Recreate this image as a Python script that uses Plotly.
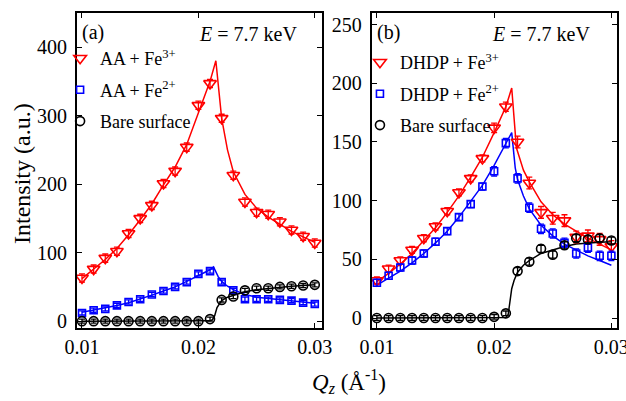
import plotly.graph_objects as go

# ---------------- data ----------------
q_pts = [0.010, 0.011, 0.012, 0.013, 0.014, 0.015, 0.016, 0.017, 0.018, 0.019, 0.020,
         0.021, 0.022, 0.023, 0.024, 0.025, 0.026, 0.027, 0.028, 0.029, 0.030]

# panel (a) : AA
a_fe3 = [63, 76, 92, 102, 128, 150, 169, 201, 219, 254, 315, 347, 296, 213, 174, 159, 156, 145, 133, 124, 114]
a_fe2 = [12, 16, 18, 23, 28, 32, 39, 44, 50, 57, 69, 73, 57, 45, 32, 32, 32, 31, 30, 27, 25]
a_bare = [0, 0, 0, 0, 0, 0, 0, 0, 0, 0, 0, 3, 31, 36, 45, 48, 48, 50, 51, 52, 53]
a_fe3_err = [6, 6, 6, 6, 6, 6, 6, 6, 6, 6, 6, 6, 6, 6, 6, 6, 6, 6, 6, 6, 6]
a_fe2_err = [3, 3, 3, 3, 3, 3, 3, 3, 3, 3, 3, 3, 3, 3, 3, 3, 3, 3, 3, 3, 3]
a_bare_err = [3, 3, 3, 3, 3, 3, 3, 3, 3, 3, 3, 3, 3, 3, 3, 3, 3, 3, 3, 3, 3]

# panel (b) : DHDP
b_fe3 = [32, 42, 49, 58, 68, 78, 91, 107, 119, 136, 162, 180, 150, 115, 90, 85, 83, 69, 70, 67, 61]
b_fe2 = [30, 36, 43, 49, 55, 65, 74, 86, 97, 112, 125, 149, 119, 94, 76, 72, 64, 55, 60, 53, 53]
b_bare = [0, 0, 0, 0, 0, 0, 0, 0, 0, 0, 1, 4, 40, 48, 59, 54, 62, 68, 67, 68, 66]
b_fe3_err = [3, 3, 3, 3, 3, 3, 3, 3, 3, 3, 4, 4, 5, 5, 5, 5, 5, 5, 5, 5, 5]
b_fe2_err = [3, 3, 3, 3, 3, 3, 3, 3, 3, 3, 4, 4, 4, 4, 4, 4, 4, 4, 4, 4, 4]
b_bare_err = [2, 2, 2, 2, 2, 2, 2, 2, 2, 2, 2, 2, 3, 3, 3, 3, 3, 3, 3, 3, 3]

# fit curves
a_fe3_fit_q = [0.010, 0.011, 0.012, 0.013, 0.014, 0.015, 0.016, 0.017, 0.018, 0.019, 0.020, 0.021,
               0.0215, 0.0218, 0.022, 0.0225, 0.023, 0.024, 0.025, 0.026, 0.027, 0.028, 0.029, 0.030]
a_fe3_fit = [62, 76, 90, 106, 126, 148, 171, 199, 225, 258, 305, 350,
             380, 330, 296, 250, 218, 185, 165, 152, 141, 131, 123, 115]

a_fe2_fit_q = [0.010, 0.011, 0.012, 0.013, 0.014, 0.015, 0.016, 0.017, 0.018, 0.019, 0.020, 0.021,
               0.0213, 0.0217, 0.022, 0.0225, 0.023, 0.024, 0.025, 0.026, 0.027, 0.028, 0.029, 0.030]
a_fe2_fit = [13, 16, 19, 23, 27, 32, 38, 44, 50, 58, 67, 75,
             79, 65, 58, 51, 46, 39, 35, 33, 31, 29, 27, 26]

a_bare_fit_q = [0.010, 0.015, 0.020, 0.0210, 0.0212, 0.0214, 0.0216, 0.0218, 0.022, 0.0225,
                0.023, 0.024, 0.025, 0.026, 0.027, 0.028, 0.029, 0.030]
a_bare_fit = [0, 0, 0, 0.5, 2, 8, 20, 26, 30, 35, 38, 43, 46, 48, 50, 51, 52, 53]

b_fe3_fit_q = [0.010, 0.011, 0.012, 0.013, 0.014, 0.015, 0.016, 0.017, 0.018, 0.019, 0.020, 0.021,
               0.0215, 0.0219, 0.0225, 0.023, 0.024, 0.025, 0.026, 0.027, 0.028, 0.029, 0.030]
b_fe3_fit = [31, 38, 46, 55, 66, 77, 90, 104, 120, 137, 158, 180,
             196, 145, 126, 116, 99, 88, 80, 74, 68, 63, 58]

b_fe2_fit_q = [0.010, 0.011, 0.012, 0.013, 0.014, 0.015, 0.016, 0.017, 0.018, 0.019, 0.020, 0.021,
               0.0215, 0.0218, 0.022, 0.0225, 0.023, 0.024, 0.025, 0.026, 0.027, 0.028, 0.029, 0.030]
b_fe2_fit = [28, 34, 40, 47, 55, 64, 74, 86, 99, 113, 130, 148,
             158, 128, 118, 104, 93, 79, 70, 63, 58, 53, 49, 45]

b_bare_fit_q = [0.010, 0.015, 0.020, 0.0210, 0.0212, 0.0213, 0.0214, 0.0215, 0.0217, 0.022, 0.0225,
                0.023, 0.024, 0.025, 0.026, 0.027, 0.028, 0.029, 0.030]
b_bare_fit = [0, 0, 0, 0.5, 3, 10, 18, 25, 32, 39, 45, 49, 55, 58, 61, 63, 64, 64.5, 65]

y_ticks_a = [0, 100, 200, 300, 400]
y_ticks_b = [0, 50, 100, 150, 200, 250]
x_ticks = [0.01, 0.02, 0.03]

RED = "#ff0000"
BLUE = "#0000ff"
BLACK = "#000000"
FONT = "Times New Roman, Liberation Serif, DejaVu Serif, serif"

fig = go.Figure()


def add_series(q, vals, err, color, symbol, size, name, xa, ya, legend):
    fig.add_trace(go.Scatter(
        x=q, y=vals, mode="markers", name=name, xaxis=xa, yaxis=ya,
        legend=legend, legendgroup=name + legend,
        marker=dict(symbol=symbol, size=size, color=color,
                    line=dict(color=color, width=1.6)),
        error_y=dict(type="data", array=err, visible=True, color=color,
                     thickness=1.3, width=3),
    ))


def add_fit(q, vals, color, xa, ya):
    fig.add_trace(go.Scatter(
        x=q, y=vals, mode="lines", xaxis=xa, yaxis=ya, showlegend=False,
        line=dict(color=color, width=1.5), hoverinfo="skip",
    ))


# panel (a)
add_fit(a_fe3_fit_q, a_fe3_fit, RED, "x", "y")
add_fit(a_fe2_fit_q, a_fe2_fit, BLUE, "x", "y")
add_fit(a_bare_fit_q, a_bare_fit, BLACK, "x", "y")
add_series(q_pts, a_fe3, a_fe3_err, RED, "triangle-down-open", 11, "AA + Fe<sup>3+</sup>", "x", "y", "legend")
add_series(q_pts, a_fe2, a_fe2_err, BLUE, "square-open", 7, "AA + Fe<sup>2+</sup>", "x", "y", "legend")
add_series(q_pts, a_bare, a_bare_err, BLACK, "circle-open", 9, "Bare surface", "x", "y", "legend")

# panel (b)
add_fit(b_fe3_fit_q, b_fe3_fit, RED, "x2", "y2")
add_fit(b_fe2_fit_q, b_fe2_fit, BLUE, "x2", "y2")
add_fit(b_bare_fit_q, b_bare_fit, BLACK, "x2", "y2")
add_series(q_pts, b_fe3, b_fe3_err, RED, "triangle-down-open", 11, "DHDP + Fe<sup>3+</sup>", "x2", "y2", "legend2")
add_series(q_pts, b_fe2, b_fe2_err, BLUE, "square-open", 7, "DHDP + Fe<sup>2+</sup>", "x2", "y2", "legend2")
add_series(q_pts, b_bare, b_bare_err, BLACK, "circle-open", 9, "Bare surface", "x2", "y2", "legend2")

axis_common = dict(
    showline=True, linecolor="black", linewidth=2, mirror="allticks",
    ticks="inside", ticklen=5, tickwidth=1.2, tickcolor="black",
    showgrid=False, zeroline=False, automargin=False, ticklabeloverflow="allow",
    tickfont=dict(family=FONT, size=20, color="black"),
)

fig.update_layout(
    template="none",
    width=626, height=401,
    margin=dict(l=0, r=0, t=0, b=0, pad=0, autoexpand=False),
    paper_bgcolor="white", plot_bgcolor="white",
    font=dict(family=FONT, color="black"),
    xaxis=dict(domain=[0.123, 0.514], range=[0.00957, 0.0306], tickvals=x_ticks,
               ticktext=["0.01", "0.02", "0.03"], anchor="y", **axis_common),
    yaxis=dict(domain=[0.182, 0.968], range=[-10, 450], tickvals=y_ticks_a, anchor="x",
               ticklabelstandoff=4, **axis_common),
    xaxis2=dict(domain=[0.594, 0.986], range=[0.00957, 0.0305], tickvals=x_ticks,
                ticktext=["0.01", "0.02", "0.03"], anchor="y2", **axis_common),
    yaxis2=dict(domain=[0.182, 0.968], range=[-8.5, 260], tickvals=y_ticks_b, anchor="x2",
                ticklabelstandoff=4, **axis_common),
    legend=dict(x=0.096, y=0.90, xanchor="left", yanchor="top", bgcolor="rgba(0,0,0,0)",
                font=dict(family=FONT, size=18, color="black"), traceorder="grouped",
                tracegroupgap=5, itemclick=False, borderwidth=0),
    legend2=dict(x=0.575, y=0.89, xanchor="left", yanchor="top", bgcolor="rgba(0,0,0,0)",
                 font=dict(family=FONT, size=18, color="black"), traceorder="grouped",
                 tracegroupgap=5, itemclick=False, borderwidth=0),
    showlegend=True,
)

annotations = [
    dict(text="(a)", x=80 / 626, y=1 - 32 / 401, xref="paper", yref="paper", xanchor="left",
         yanchor="middle", showarrow=False, font=dict(family=FONT, size=20)),
    dict(text="<i>E</i> = 7.7 keV", x=299 / 626, y=1 - 34 / 401, xref="paper", yref="paper", xanchor="right",
         yanchor="middle", showarrow=False, font=dict(family=FONT, size=20)),
    dict(text="(b)", x=375 / 626, y=1 - 32 / 401, xref="paper", yref="paper", xanchor="left",
         yanchor="middle", showarrow=False, font=dict(family=FONT, size=20)),
    dict(text="<i>E</i> = 7.7 keV", x=592 / 626, y=1 - 34 / 401, xref="paper", yref="paper", xanchor="right",
         yanchor="middle", showarrow=False, font=dict(family=FONT, size=20)),
    dict(text="Intensity (a.u.)", x=22 / 626, y=1 - 174 / 401, xref="paper", yref="paper",
         xanchor="center", yanchor="middle", textangle=-90, showarrow=False,
         font=dict(family=FONT, size=24)),
    dict(text="<i>Q</i><sub><i>z</i></sub> (Å<sup>-1</sup>)", x=349 / 626, y=1 - 381 / 401,
         xref="paper", yref="paper", xanchor="center", yanchor="middle", showarrow=False,
         font=dict(family=FONT, size=23)),
]
fig.update_layout(annotations=annotations)

fig.write_html("out.html")
